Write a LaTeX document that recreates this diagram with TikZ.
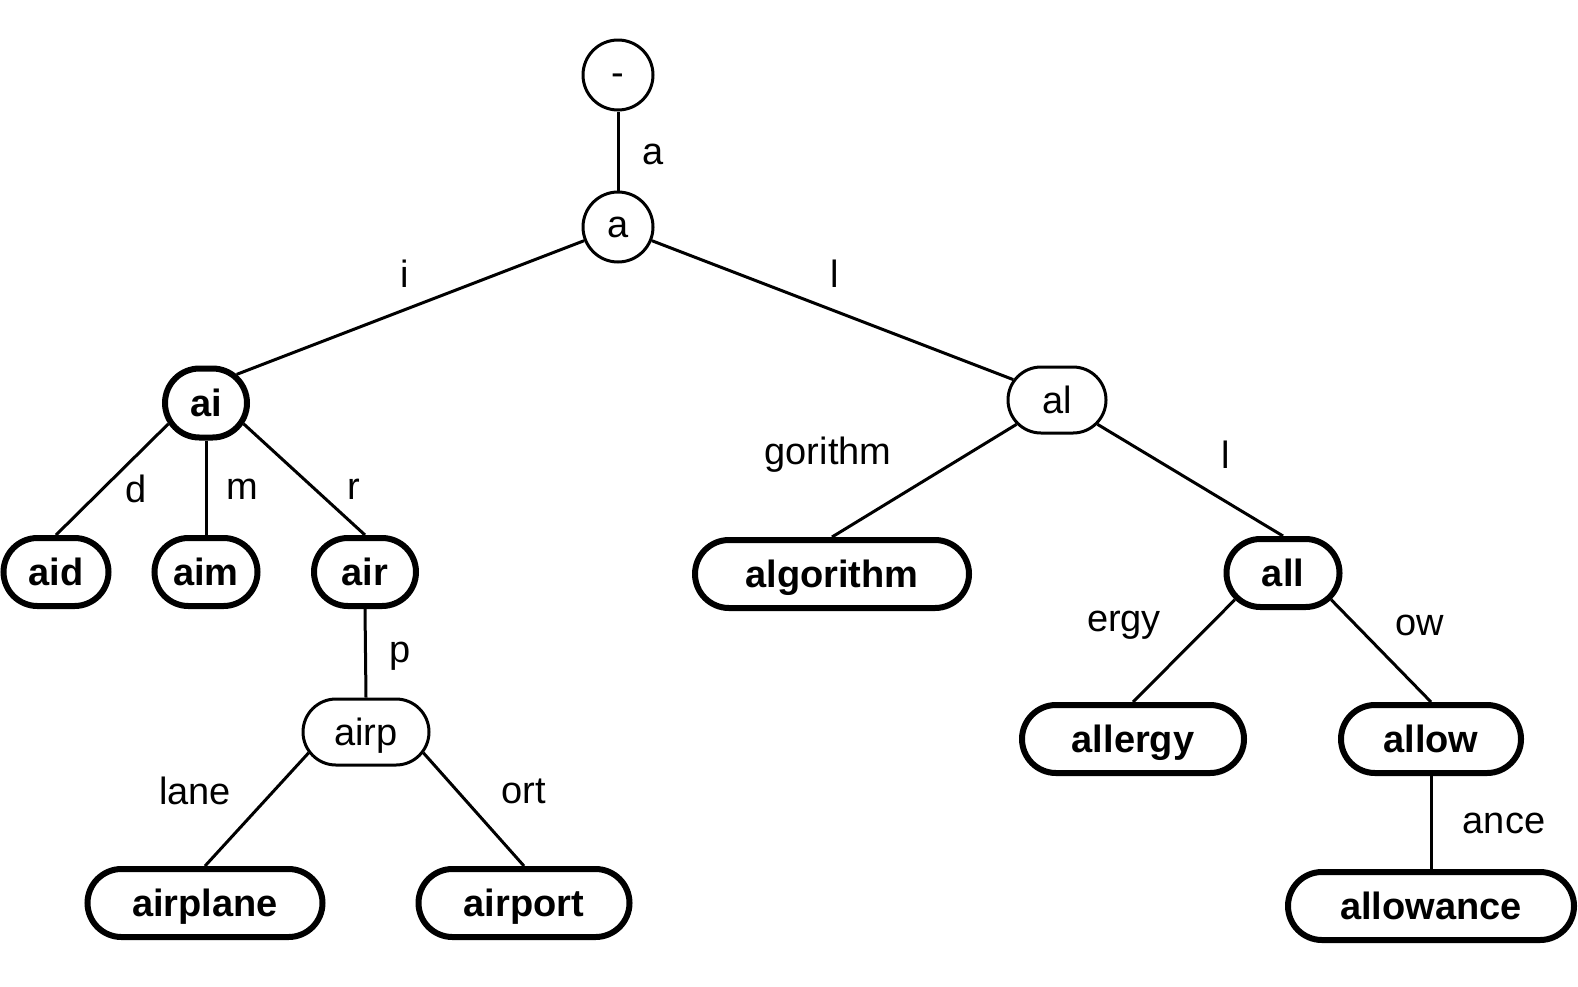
\documentclass[tikz,border=0pt]{standalone}
\usepackage{fontspec}
\setmainfont{Liberation Sans}
\usetikzlibrary{shapes.misc}
\begin{document}
\begin{tikzpicture}[x=1pt,y=-1pt,
  every node/.style={font=\fontsize{38}{44}\selectfont},
  inner/.style={draw, line width=3pt, rounded rectangle, inner sep=0pt, minimum height=66pt, text height=27pt, text depth=0pt},
  circ/.style={draw, line width=3pt, circle, inner sep=0pt, minimum size=70pt},
  word/.style={draw, line width=6pt, rounded rectangle, inner sep=0pt, minimum height=68pt, text height=27pt, text depth=0pt, font=\fontsize{38}{44}\selectfont\bfseries},
  lbl/.style={inner sep=0pt},
  edge/.style={line width=3pt}]
\useasboundingbox (0,0) rectangle (1578,986);
% nodes
\node[circ, text height=21pt, text depth=0pt] (root) at (618,75) {-};
\node[circ] (a) at (618,227) {a};
\node[word, minimum width=82pt, minimum height=69pt] (ai) at (206,403) {ai};
\node[inner, minimum width=98pt] (al) at (1057,400) {al};
\node[word, minimum width=105pt] (aid) at (56,572) {aid};
\node[word, minimum width=103pt] (aim) at (206,572) {aim};
\node[word, minimum width=102pt] (air) at (365,572) {air};
\node[inner, minimum width=126pt] (airp) at (366,732) {airp};
\node[word, minimum width=235pt] (airplane) at (205,903) {airplane};
\node[word, minimum width=211pt] (airport) at (524,903) {airport};
\node[word, minimum width=274pt] (algorithm) at (832,574) {algorithm};
\node[word, minimum width=113pt] (all) at (1283,573) {all};
\node[word, minimum width=222pt] (allergy) at (1133,739) {allergy};
\node[word, minimum width=180pt] (allow) at (1431,739) {allow};
\node[word, minimum width=286pt] (allowance) at (1431,906) {allowance};
% edges
\draw[edge] (root) -- (a);
\draw[edge] (a.202) -- (ai.43);
\draw[edge] (a.338) -- (al.155);
\draw[edge] (ai.209) -- (aid.north);
\draw[edge] (ai.south) -- (aim.north);
\draw[edge] (ai.331) -- (air.north);
\draw[edge] (air.south) -- (airp.north);
\draw[edge] (airp.200) -- (airplane.north);
\draw[edge] (airp.340) -- (airport.north);
\draw[edge] (al.211) -- (algorithm.north);
\draw[edge] (al.329) -- (all.north);
\draw[edge] (all.209) -- (allergy.north);
\draw[edge] (all.331) -- (allow.north);
\draw[edge] (allow.south) -- (allowance.north);
% edge labels
\node[lbl] (la) at (653,154) {a};
\node[lbl] (li) at (405,274) {i};
\node[lbl] (ll) at (835,274) {l};
\node[lbl] (ld) at (136,489) {d};
\node[lbl] (lm) at (242,489) {m};
\node[lbl] (lr) at (354,489) {r};
\node[lbl] (lp) at (400,656) {p};
\node[lbl] (lgor) at (828,455) {gorithm};
\node[lbl] (ll2) at (1226,455) {l};
\node[lbl] (lergy) at (1124,625) {ergy};
\node[lbl] (low) at (1420,625) {ow};
\node[lbl] (llane) at (195,791) {lane};
\node[lbl] (lort) at (524,791) {ort};
\node[lbl] (lance) at (1504,823) {ance};
\end{tikzpicture}
\end{document}
